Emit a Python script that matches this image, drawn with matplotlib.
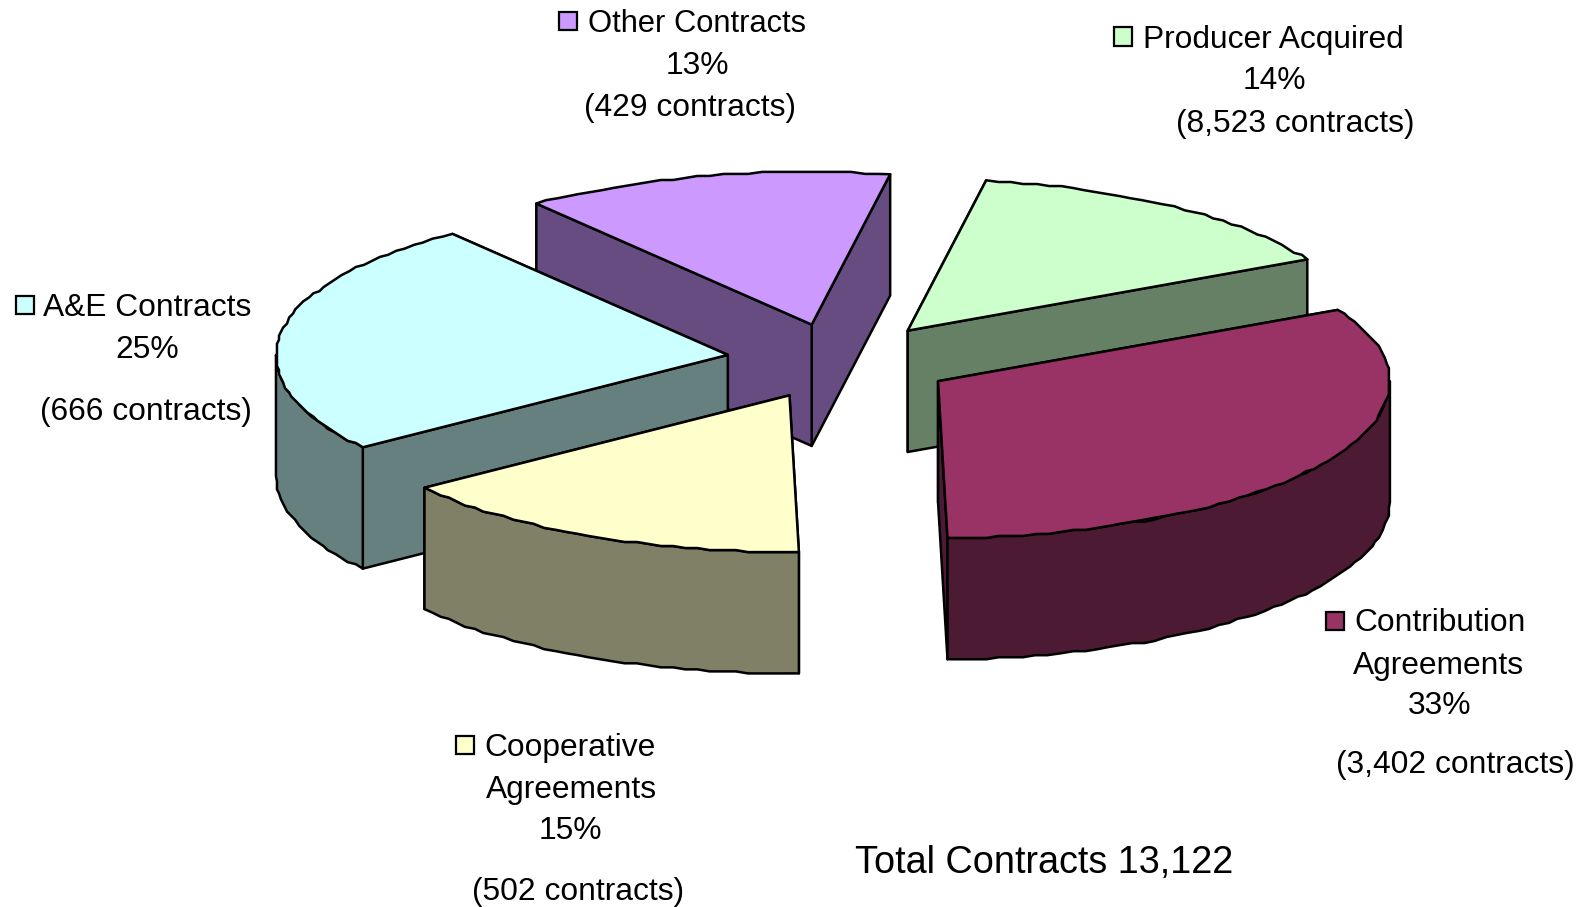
import numpy as np
import matplotlib
matplotlib.use("Agg")
import matplotlib.pyplot as plt
from matplotlib.patches import Polygon, Rectangle

plt.rcParams['font.family'] = ['Liberation Sans', 'DejaVu Sans']

# Data, clockwise from the start angle (shares)
categories = ["Producer Acquired", "Contribution Agreements", "Cooperative Agreements",
              "A&E Contracts", "Other Contracts"]
shares = [14.49, 32.4, 15.3, 24.6, 13.21]
contract_labels = ["(8,523 contracts)", "(3,402 contracts)", "(502 contracts)",
                   "(666 contracts)", "(429 contracts)"]
total_label = "Total Contracts 13,122"

top_colors = ["#CCFFCC", "#993366", "#FFFFCC", "#CCFFFF", "#CC99FF"]
side_colors = ["#668066", "#4D1A33", "#808066", "#668080", "#664C80"]

# Layout (in the reference's displayed pixel frame)
W, H = 1568, 897
RX, RY_FRONT, RY_BACK, DEPTH = 447, 155, 151, 120
START = 80.0
apex = {"Producer Acquired": (898, 327), "Contribution Agreements": (928, 377),
        "Cooperative Agreements": (781, 391), "A&E Contracts": (720, 351),
        "Other Contracts": (803, 321)}
draw_order = ["Other Contracts", "Producer Acquired", "A&E Contracts",
              "Cooperative Agreements", "Contribution Agreements"]

fig = plt.figure(figsize=(15.85, 9.07), dpi=100)
ax = fig.add_axes([0, 0, 1, 1])
ax.set_xlim(0, W)
ax.set_ylim(H, 0)
ax.axis("off")

ang = {}
a = START
for c, s in zip(categories, shares):
    b = a - s * 3.6
    ang[c] = (a, b)
    a = b


def pts(cx, cy, t):
    t = np.radians(t)
    s = np.sin(t)
    return np.column_stack([cx + RX * np.cos(t), cy - np.where(s > 0, RY_BACK, RY_FRONT) * s])


def arc(cx, cy, a0, a1):
    n = max(2, int(abs(a1 - a0) / 1.6) + 1)
    p = pts(cx, cy, np.linspace(a0, a1, n))
    p[1:-1] = np.round(p[1:-1] / 2.0) * 2.0
    return p


LW = 1.8
for c in draw_order:
    i = categories.index(c)
    cx, cy = apex[c]
    a0, a1 = ang[c]
    top = top_colors[i]
    side = side_colors[i]
    down = np.array([0, DEPTH])
    # radial walls, the one further back first
    ends = sorted([a0, a1], key=lambda t: pts(cx, cy, np.array([t]))[0, 1])
    for t in ends:
        e = pts(cx, cy, np.array([t]))[0]
        poly = [(cx, cy), tuple(e), tuple(e + down), (cx, cy + DEPTH)]
        ax.add_patch(Polygon(poly, closed=True, fc=side, ec="black", lw=LW, joinstyle="round"))
    # outer wall on the part of the rim that faces the viewer
    grid = np.arange(-360.0, 361.0, 180.0)
    lo, hi = a1, a0
    cuts = sorted([lo, hi] + [g for g in grid if lo < g < hi])
    for u, v in zip(cuts[:-1], cuts[1:]):
        if np.sin(np.radians((u + v) / 2)) < 0:
            rim = arc(cx, cy, u, v)
            ax.add_patch(Polygon(np.vstack([rim, (rim + down)[::-1]]), closed=True,
                                 fc=side, ec="black", lw=LW, joinstyle="round"))
    # top face
    rim = arc(cx, cy, a0, a1)
    ax.add_patch(Polygon(np.vstack([[(cx, cy)], rim]), closed=True, fc=top, ec="black",
                         lw=LW, joinstyle="round"))

FS = 22.9
DY = 2.5
# label block: swatch x, swatch y, then text lines (x centre, y centre)
labels = {
    "Other Contracts": ((553, 12), [("Other Contracts", 690, 21), ("13%", 690, 63), (contract_labels[4], 683, 104)]),
    "Producer Acquired": ((1102, 27), [("Producer Acquired", 1260, 37), ("14%", 1261, 78), (contract_labels[0], 1281, 120)]),
    "A&E Contracts": ((16, 293), [("A&E Contracts", 146, 302), ("25%", 146, 344), (contract_labels[3], 144, 405)]),
    "Contribution Agreements": ((1312, 605), [("Contribution", 1425, 614), ("Agreements", 1423, 656), ("33%", 1424, 696),
                                              (contract_labels[1], 1440, 754)]),
    "Cooperative Agreements": ((451, 728), [("Cooperative", 564, 737), ("Agreements", 565, 779), ("15%", 564, 819),
                                            (contract_labels[2], 572, 880)]),
}
for c, ((sx, sy), lines) in labels.items():
    i = categories.index(c)
    ax.add_patch(Rectangle((sx, sy), 18, 18, fc=top_colors[i], ec="black", lw=1.6))
    for txt, x, y in lines:
        fs = 22.2 if txt == "Other Contracts" else FS
        ax.text(x, y + DY, txt, ha="center", va="center", fontsize=fs, color="black")

ax.text(1033, 851 + 2, total_label, ha="center", va="center", fontsize=27.2, color="black")

fig.savefig("out.png", dpi=100, facecolor="white")
